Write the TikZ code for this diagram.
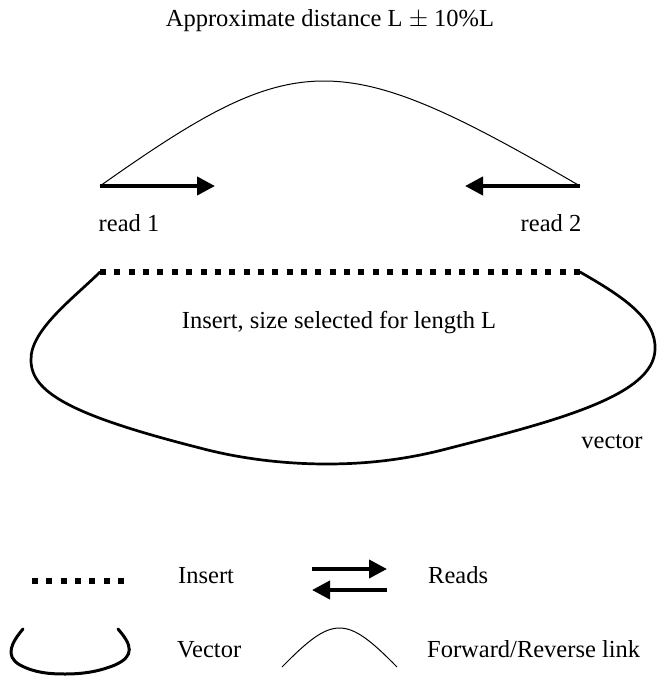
\documentclass[tikz,border=0pt]{standalone}
\usepackage{fontspec}
\setmainfont{Liberation Serif}
\usetikzlibrary{arrows.meta}

\tikzset{
  lbl/.style={inner sep=0pt, anchor=base, font=\fontsize{24.5}{28}\selectfont},
  lbll/.style={lbl, anchor=base west},
  readarrow/.style={line width=4pt, -{Triangle[length=18pt,width=18pt]}},
  insertline/.style={line width=6.5pt, dash pattern=on 6pt off 8.36pt},
  vectorline/.style={line width=2.7pt, line cap=round},
  linkline/.style={line width=1pt},
}

\begin{document}
\begin{tikzpicture}[x=1pt, y=-1pt]
  \useasboundingbox (0,0) rectangle (661,677);

  % title
  \node[lbl] (title) at (330,27) {Approximate distance L $\pm$ 10\%L};

  % read ends and forward/reverse link
  \coordinate (r1) at (100,186);
  \coordinate (r2) at (580,186);
  \coordinate (r1tip) at (215,186);
  \coordinate (r2tip) at (465,186);
  \draw[linkline] (r1) .. controls (298,46) and (339,46) .. (r2);
  \draw[readarrow] (r1) -- (r1tip);
  \draw[readarrow] (r2) -- (r2tip);
  \node[lbl] (read1) at (129,231) {read 1};
  \node[lbl] (read2) at (551,231) {read 2};

  % insert
  \coordinate (insl) at (100,272);
  \coordinate (insr) at (580,272);
  \draw[insertline] (insl) -- (insr);
  \node[lbl] (instext) at (339,328) {Insert, size selected for length L};

  % vector backbone
  \draw[vectorline] (insl) .. controls (75,297) and (30,330) .. (31,360)
    .. controls (31,392) and (70,415) .. (200,448)
    .. controls (245,460) and (290,464) .. (327,464)
    .. controls (380,464) and (420,456) .. (450,448)
    .. controls (560,420) and (653,395) .. (655,350)
    .. controls (657,318) and (620,295) .. (insr);
  \node[lbl] (vectext) at (612,448) {vector};

  % legend: insert
  \coordinate (li1) at (32,581);
  \coordinate (li2) at (124,581);
  \draw[insertline] (li1) -- (li2);
  \node[lbll] (linsert) at (178,583) {Insert};

  % legend: reads
  \coordinate (la1) at (312,569);
  \coordinate (la2) at (387,569);
  \coordinate (lb1) at (387,590);
  \coordinate (lb2) at (312,590);
  \draw[readarrow] (la1) -- (la2);
  \draw[readarrow] (lb1) -- (lb2);
  \node[lbll] (lreads) at (428,583) {Reads};

  % legend: vector
  \coordinate (lv1) at (23,629);
  \coordinate (lv2) at (118,629);
  \draw[vectorline, line width=3pt] (lv1) .. controls (12,642) and (4,656) .. (20,665)
    .. controls (35,673) and (50,674) .. (65,674)
    .. controls (85,674) and (100,671) .. (115,665)
    .. controls (135,656) and (132,645) .. (lv2);
  \node[lbll] (lvector) at (177,657) {Vector};

  % legend: forward/reverse link
  \coordinate (ll1) at (282,667);
  \coordinate (ll2) at (397,667);
  \draw[linkline] (ll1) .. controls (333,615) and (346,615) .. (ll2);
  \node[lbll] (llink) at (427,657) {Forward/Reverse link};
\end{tikzpicture}
\end{document}
